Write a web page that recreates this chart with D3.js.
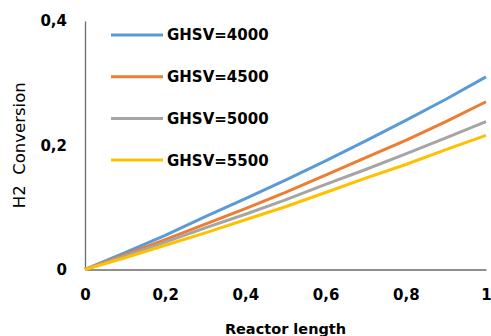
<!DOCTYPE html>
<html>
<head>
<meta charset="utf-8">
<script src="https://cdn.jsdelivr.net/npm/d3@7"></script>
<style>
  body { margin: 0; background: #fff; }
  svg { display: block; }
  .tick text { font-family: "DejaVu Sans", sans-serif; font-weight: bold; fill: #000; }
</style>
</head>
<body>
<div id="chart"></div>
<script>
// Chart data
const reactorLength = [0, 0.1, 0.2, 0.3, 0.4, 0.5, 0.6, 0.7, 0.8, 0.9, 1];
const ghsv4000 = [0, 0.027, 0.055, 0.085, 0.114, 0.144, 0.175, 0.207, 0.240, 0.274, 0.310];
const ghsv4500 = [0, 0.024, 0.048, 0.073, 0.098, 0.124, 0.152, 0.180, 0.208, 0.238, 0.270];
const ghsv5000 = [0, 0.022, 0.044, 0.067, 0.089, 0.112, 0.137, 0.161, 0.186, 0.212, 0.238];
const ghsv5500 = [0, 0.019, 0.039, 0.059, 0.080, 0.101, 0.124, 0.147, 0.169, 0.193, 0.216];
const seriesNames = ["GHSV=4000", "GHSV=4500", "GHSV=5000", "GHSV=5500"];
const seriesColors = ["#5B9BD5", "#ED7D31", "#A5A5A5", "#FFC000"];
const xTicks = [0, 0.2, 0.4, 0.6, 0.8, 1];
const yTicks = [0, 0.2, 0.4];

const width = 491, height = 336;
const margin = { top: 21, right: 5, bottom: 66.5, left: 85 };

const svg = d3.select("#chart")
    .append("svg")
    .attr("width", width)
    .attr("height", height);

// comma as decimal separator
const locale = d3.formatLocale({ decimal: ",", thousands: ".", grouping: [3], currency: ["", ""] });
const fmt = locale.format("~g");

const x = d3.scaleLinear()
    .domain([0, 1])
    .range([margin.left, width - margin.right]);

const y = d3.scaleLinear()
    .domain([0, 0.4])
    .range([height - margin.bottom, margin.top]);

// axes
const xAxis = svg.append("g")
    .attr("transform", `translate(0, ${y(0)})`)
    .call(d3.axisBottom(x).tickValues(xTicks).tickFormat(fmt).tickSize(0).tickPadding(20));
xAxis.select(".domain").attr("stroke", "#6a6a6a").attr("stroke-width", 1.3);
xAxis.selectAll(".tick text").style("font-size", "15px");

const yAxis = svg.append("g")
    .attr("transform", `translate(${x(0)}, 0)`)
    .call(d3.axisLeft(y).tickValues(yTicks).tickFormat(fmt).tickSize(0).tickPadding(18));
yAxis.select(".domain").attr("stroke", "#6a6a6a").attr("stroke-width", 1.3);
yAxis.selectAll(".tick text").style("font-size", "15px");

// series lines
const allSeries = [ghsv4000, ghsv4500, ghsv5000, ghsv5500];
const line = d3.line()
    .x((d, i) => x(reactorLength[i]))
    .y(d => y(d));

svg.append("g")
    .selectAll("path")
    .data(allSeries)
    .enter()
    .append("path")
    .attr("d", line)
    .attr("fill", "none")
    .attr("stroke", (d, i) => seriesColors[i])
    .attr("stroke-width", 3)
    .attr("stroke-linejoin", "round");

// legend
const legend = svg.append("g")
    .selectAll("g")
    .data(seriesNames)
    .enter()
    .append("g")
    .attr("transform", (d, i) => `translate(111, ${35 + i * 41.7})`);

legend.append("line")
    .attr("x1", 0)
    .attr("x2", 52)
    .attr("stroke", (d, i) => seriesColors[i])
    .attr("stroke-width", 3);

legend.append("text")
    .attr("x", 56)
    .attr("dy", "0.36em")
    .style("font-family", "'DejaVu Sans', sans-serif")
    .style("font-weight", "bold")
    .style("font-size", "15px")
    .text(d => d);

// axis titles
svg.append("text")
    .attr("transform", `translate(25, ${(y(0) + y(0.4)) / 2}) rotate(-90)`)
    .attr("text-anchor", "middle")
    .style("font-family", "'DejaVu Sans', sans-serif")
    .style("font-size", "16.5px")
    .text("H2\u00a0\u00a0Conversion");

svg.append("text")
    .attr("x", (x(0) + x(1)) / 2)
    .attr("y", 334)
    .attr("text-anchor", "middle")
    .style("font-family", "'DejaVu Sans', sans-serif")
    .style("font-weight", "bold")
    .style("font-size", "14.5px")
    .text("Reactor length");
</script>
</body>
</html>
